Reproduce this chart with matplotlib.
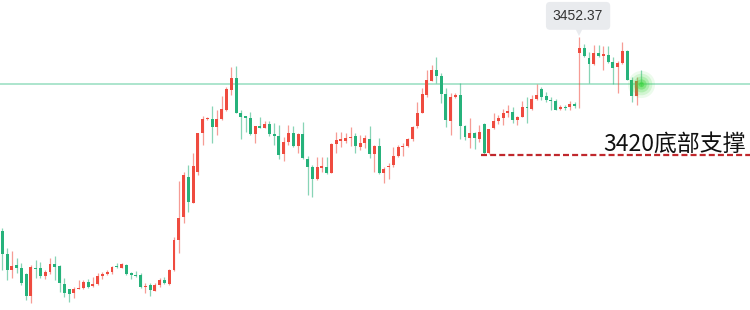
import numpy as np
import matplotlib.pyplot as plt
from matplotlib.transforms import offset_copy

# --- Candle data ---
opens = [
    3399.2, 3392.8, 3388.5, 3389.9, 3389.0, 3387.4, 3381.4, 3389.2, 3389.0, 3386.9,
    3387.9, 3390.2, 3389.6, 3384.7, 3383.2, 3382.2, 3383.3, 3383.7, 3385.3, 3384.2,
    3384.7, 3386.9, 3387.4, 3387.9, 3389.6, 3389.2, 3389.9, 3387.6, 3387.2, 3387.2,
    3383.8, 3384.4, 3382.9, 3384.4, 3385.8, 3384.7, 3388.4, 3396.7, 3403.1, 3413.9,
    3407.0, 3415.4, 3425.9, 3429.8, 3429.8, 3427.7, 3429.8, 3432.3, 3437.8, 3441.0,
    3431.6, 3430.5, 3430.0, 3425.7, 3427.9, 3427.5, 3428.5, 3425.7, 3425.2, 3420.3,
    3423.6, 3426.1, 3422.5, 3425.7, 3418.8, 3416.6, 3413.4, 3416.5, 3416.8, 3415.2,
    3422.9, 3423.9, 3423.9, 3424.6, 3425.2, 3422.3, 3423.4, 3424.3, 3420.3, 3422.5,
    3415.0, 3416.6, 3417.3, 3419.7, 3422.1, 3422.5, 3424.3, 3427.9, 3431.6, 3436.4,
    3440.3, 3443.3, 3441.6, 3436.7, 3429.4, 3435.9, 3436.4, 3427.9, 3424.6, 3426.1,
    3424.3, 3428.5, 3420.5, 3427.3, 3429.4, 3430.0, 3431.6, 3431.8, 3429.6, 3430.5,
    3433.2, 3432.5, 3435.2, 3438.0, 3436.1, 3435.0, 3434.9, 3432.6, 3433.2, 3433.0,
    3434.0, 3447.8, 3449.2, 3446.5, 3444.9, 3448.0, 3447.1, 3447.4, 3445.5, 3444.0,
    3445.1, 3448.5, 3440.5, 3436.1, 3439.8,
]
closes = [
    3392.9, 3388.5, 3389.7, 3389.0, 3384.9, 3381.4, 3389.4, 3388.7, 3386.9, 3387.9,
    3390.2, 3389.4, 3384.9, 3382.3, 3382.1, 3383.3, 3383.7, 3385.3, 3384.0, 3384.8,
    3387.0, 3387.4, 3388.0, 3389.3, 3389.3, 3390.1, 3387.4, 3387.2, 3386.9, 3383.8,
    3384.2, 3383.1, 3384.4, 3385.8, 3384.9, 3388.5, 3396.7, 3402.7, 3414.5, 3407.2,
    3417.0, 3425.9, 3429.8, 3430.0, 3427.7, 3429.8, 3432.6, 3438.0, 3441.0, 3431.6,
    3430.3, 3430.2, 3425.7, 3427.9, 3427.5, 3428.5, 3425.7, 3425.3, 3420.0, 3423.6,
    3426.1, 3422.5, 3425.7, 3419.1, 3416.6, 3413.4, 3416.6, 3417.0, 3415.2, 3423.0,
    3424.1, 3424.4, 3424.6, 3425.0, 3422.5, 3423.4, 3424.6, 3420.3, 3422.5, 3415.0,
    3416.1, 3417.0, 3419.7, 3422.3, 3422.5, 3424.3, 3427.7, 3431.6, 3436.7, 3440.5,
    3443.3, 3441.6, 3436.7, 3429.6, 3435.9, 3436.4, 3427.9, 3425.0, 3426.1, 3424.6,
    3426.4, 3420.5, 3427.0, 3429.4, 3430.0, 3431.6, 3432.0, 3429.6, 3430.3, 3433.0,
    3432.8, 3435.2, 3436.4, 3435.9, 3435.0, 3434.7, 3432.3, 3433.0, 3432.8, 3434.0,
    3433.4, 3449.2, 3447.1, 3444.9, 3447.8, 3447.1, 3447.6, 3445.5, 3443.7, 3445.1,
    3448.5, 3440.5, 3436.1, 3440.3, 3439.4,
]
highs = [
    3400.1, 3394.6, 3393.7, 3391.7, 3390.5, 3387.6, 3389.9, 3391.3, 3390.8, 3388.5,
    3391.7, 3392.5, 3389.9, 3386.3, 3383.3, 3384.0, 3385.7, 3385.8, 3386.1, 3386.6,
    3387.6, 3388.1, 3388.4, 3389.6, 3390.5, 3390.4, 3390.2, 3388.1, 3388.3, 3387.8,
    3385.1, 3385.1, 3384.9, 3386.3, 3386.5, 3388.7, 3397.5, 3413.0, 3415.4, 3417.3,
    3420.5, 3426.1, 3430.7, 3430.5, 3433.4, 3432.3, 3436.1, 3438.7, 3444.2, 3444.4,
    3432.3, 3430.7, 3431.8, 3428.0, 3430.5, 3429.4, 3429.4, 3428.8, 3428.2, 3425.0,
    3428.2, 3427.9, 3425.9, 3429.1, 3419.7, 3417.3, 3419.5, 3419.5, 3419.5, 3423.4,
    3426.4, 3426.4, 3425.9, 3427.7, 3425.9, 3425.5, 3425.5, 3427.9, 3422.7, 3424.6,
    3416.8, 3417.7, 3422.1, 3422.7, 3423.4, 3424.6, 3427.8, 3434.6, 3438.2, 3443.3,
    3444.6, 3446.7, 3442.4, 3438.2, 3436.9, 3437.0, 3439.6, 3428.2, 3430.0, 3426.4,
    3428.2, 3428.7, 3427.1, 3431.6, 3431.0, 3432.5, 3433.7, 3433.2, 3430.7, 3434.9,
    3435.8, 3436.4, 3439.4, 3438.5, 3437.3, 3435.9, 3435.2, 3433.7, 3433.7, 3434.9,
    3434.6, 3452.37, 3450.4, 3448.3, 3450.1, 3450.1, 3449.8, 3449.8, 3446.9, 3445.8,
    3451.0, 3448.6, 3441.3, 3441.4, 3443.3,
]
lows = [
    3388.5, 3385.8, 3386.4, 3387.7, 3384.4, 3380.3, 3379.5, 3386.4, 3386.3, 3386.1,
    3387.4, 3385.8, 3382.6, 3381.2, 3379.7, 3380.8, 3383.2, 3383.3, 3383.7, 3384.0,
    3384.4, 3386.0, 3387.2, 3387.4, 3389.0, 3389.0, 3387.2, 3386.0, 3386.7, 3383.6,
    3382.3, 3381.4, 3382.7, 3384.0, 3384.7, 3384.5, 3388.2, 3393.1, 3401.3, 3404.5,
    3406.8, 3414.5, 3422.7, 3429.6, 3423.2, 3425.5, 3429.6, 3432.1, 3436.4, 3431.4,
    3424.3, 3426.4, 3425.5, 3423.2, 3427.3, 3427.4, 3425.2, 3422.7, 3418.8, 3418.4,
    3422.7, 3422.3, 3420.6, 3419.0, 3409.1, 3408.6, 3413.2, 3415.4, 3414.8, 3415.0,
    3420.6, 3422.3, 3423.2, 3422.5, 3420.6, 3421.4, 3421.8, 3419.1, 3415.4, 3414.9,
    3412.4, 3413.4, 3416.8, 3419.5, 3419.7, 3422.3, 3423.9, 3427.3, 3431.4, 3435.9,
    3440.2, 3439.8, 3434.3, 3427.6, 3425.5, 3435.6, 3424.3, 3424.1, 3421.8, 3421.6,
    3423.6, 3420.2, 3420.3, 3427.0, 3428.5, 3428.2, 3430.5, 3428.8, 3428.2, 3430.3,
    3428.8, 3432.3, 3435.0, 3435.0, 3434.6, 3432.3, 3432.2, 3432.3, 3432.3, 3432.3,
    3432.9, 3432.8, 3446.9, 3439.8, 3444.6, 3446.7, 3443.3, 3445.1, 3439.4, 3437.0,
    3444.9, 3440.4, 3434.6, 3433.7, 3438.9,
]

last_price = 3439.4
support_price = 3420
support_start = 100.4  # candle index where the support line begins
support_label = '3420底部支撑'

UP = '#ef4b3f'
DOWN = '#26b27b'


def main():
    o = np.array(opens)
    c = np.array(closes)
    h = np.array(highs)
    l = np.array(lows)
    x = np.arange(len(o))

    fig = plt.figure(figsize=(7.5, 3.1), dpi=100)
    ax = fig.add_axes([0, 0, 1, 1])

    colors = np.where(c >= o, UP, DOWN)

    # wicks (paler) then bodies
    ax.vlines(x, l, h, colors=colors, linewidth=0.9, alpha=0.55, zorder=2)
    body_bottom = np.minimum(o, c)
    body_height = np.maximum(np.abs(c - o), 0.35)
    ax.bar(x, body_height, bottom=body_bottom, width=0.62, color=colors,
           linewidth=0, zorder=3)

    # current price line
    ax.axhline(last_price, color='#a6e3c9', linewidth=1.3, zorder=1)

    # support line + label
    ax.hlines(support_price, support_start, 200, colors='#c0282d', linewidth=1.6,
              linestyles=(0, (2.7, 1.4)), zorder=4)
    ax.text(155.8, support_price + 1.2, support_label, ha='right', va='baseline',
            fontsize=16.5, color='#111111',
            family=['Noto Sans CJK SC', 'DejaVu Sans'], zorder=5)

    # glowing dot on the last candle
    for s, a in [(380, 0.10), (240, 0.16), (130, 0.24), (55, 0.4), (15, 0.6)]:
        ax.scatter([x[-1]], [last_price], s=s, color='#45d845', alpha=a,
                   linewidths=0, zorder=6)

    # max-high tooltip with pointer
    imax = int(np.argmax(h))
    tri_tr = offset_copy(ax.transData, fig=fig, x=0, y=5, units='points')
    ax.plot([x[imax]], [h[imax]], marker='v', markersize=8, color='#e9ebee',
            markeredgewidth=0, transform=tri_tr, zorder=7)
    ax.annotate(f'{h[imax]:.2f}', xy=(x[imax], h[imax]), xytext=(-1, 15),
                textcoords='offset points', ha='center', va='center',
                fontsize=10, color='#333333', family='Liberation Sans',
                bbox=dict(boxstyle='round,pad=0.5,rounding_size=0.3',
                          fc='#e9ebee', ec='none'), zorder=8)

    ax.set_xlim(-0.48, 156.75)
    ax.set_ylim(3377.59, 3462.41)
    ax.axis('off')

    fig.savefig('out.png', dpi=100)


if __name__ == "__main__":
    main()
